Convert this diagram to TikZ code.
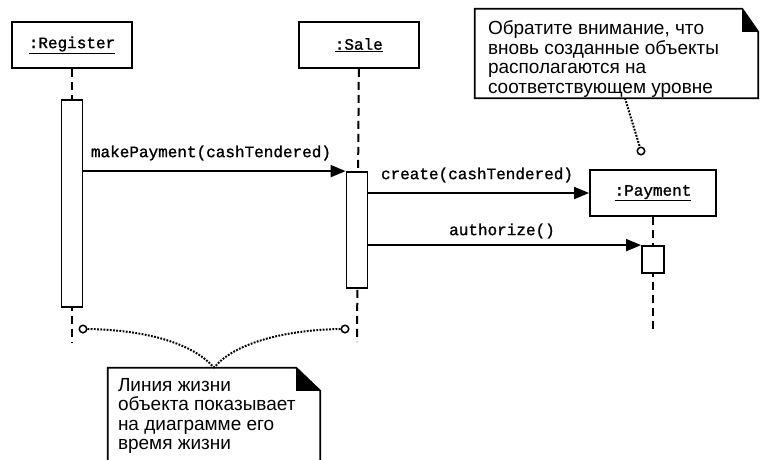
\documentclass[tikz,border=0pt]{standalone}
\usepackage{fontspec}
\setmainfont{Liberation Sans}
\setmonofont{Liberation Mono}[BoldFont=Liberation Mono,BoldFeatures={FakeBold=1.2}]
\usetikzlibrary{positioning,arrows.meta}

\tikzset{
	obj/.style={draw,line width=1.8pt,minimum width=120pt,minimum height=46pt,inner sep=0pt,font=\ttfamily\bfseries\fontsize{16}{18}\selectfont},
	act/.style={draw,fill=white,line width=1.8pt,minimum width=21pt,inner sep=0pt},
	life/.style={line width=2pt,dash pattern=on 8pt off 5pt},
	msg/.style={line width=1.8pt,-{Triangle[length=15pt,width=12pt]}},
	msglabel/.style={inner sep=0pt,font=\ttfamily\bfseries\fontsize{16}{18}\selectfont},
	note/.style={inner sep=0pt,anchor=north west,align=left,font=\fontsize{19}{19.5}\selectfont},
	notebox/.style={line width=1.8pt},
	link/.style={line width=2pt,dash pattern=on 1.8pt off 1.4pt},
	pin/.style={circle,draw,fill=white,line width=1.5pt,minimum size=7.5pt,inner sep=0pt}
}

\begin{document}
\begin{tikzpicture}[x=1pt,y=-1pt]
	\useasboundingbox (0,0) rectangle (760,459);
	\clip (0,0) rectangle (760,459);
	\draw node (reg)[obj] at (72,45) {\underline{:Register}};
	\draw node (sale)[obj,right=165pt of reg] {\underline{:Sale}};
	\draw node (pay)[obj,minimum width=126pt] at (653,193) {\underline{:Payment}};
	\coordinate (regend) at (72,342);
	\coordinate (saleend) at (357,342);
	\coordinate (payend) at (653,332);
	\draw[life] (reg.south) -- (regend);
	\draw[life] (sale.south) -- (saleend);
	\draw[life] (pay.south) -- (payend);
	\draw node (regact)[act,minimum height=207pt] at (72,203.5) {};
	\draw node (saleact)[act,minimum height=116pt] at (357,230) {};
	\draw node (payact)[act,minimum height=27pt,minimum width=22pt] at (653,259.5) {};
	\draw[msg] (regact.east |- saleact.north west) -- (saleact.north west);
	\draw[msg] (saleact.east |- pay.west) -- (pay.west);
	\draw[msg] (saleact.east |- payact.north west) -- (payact.north west);
	\draw node (mplabel)[msglabel] at (211,153) {makePayment(cashTendered)};
	\draw node (crlabel)[msglabel] at (477,175) {create(cashTendered)};
	\draw node (aulabel)[msglabel] at (502,231) {authorize()};
	\draw node (topnote)[minimum width=283pt,minimum height=89pt] at (616.5,53.5) {};
	\draw node (toptext)[note] at ([xshift=13pt,yshift=-12pt]topnote.north west) {Обратите внимание, что\\вновь созданные объекты\\располагаются на\\соответствующем уровне};
	\draw[notebox] (topnote.north west) -- ([xshift=-16pt]topnote.north east) -- ([yshift=-23pt]topnote.north east) -- (topnote.south east) -- (topnote.south west) -- cycle;
	\fill ([xshift=-16pt]topnote.north east) -- ([xshift=-16pt,yshift=-23pt]topnote.north east) -- ([yshift=-23pt]topnote.north east) -- cycle;
	\draw node (botnote)[minimum width=212pt,minimum height=102pt] at (214,419) {};
	\draw node (bottext)[note] at ([xshift=10pt,yshift=-10pt]botnote.north west) {Линия жизни\\объекта показывает\\на диаграмме его\\время жизни};
	\draw[notebox] (botnote.north west) -- ([xshift=-24pt]botnote.north east) -- ([yshift=-23pt]botnote.north east) -- (botnote.south east) -- (botnote.south west) -- cycle;
	\fill ([xshift=-24pt]botnote.north east) -- ([xshift=-24pt,yshift=-23pt]botnote.north east) -- ([yshift=-23pt]botnote.north east) -- cycle;
	\draw node (p1)[pin] at (641,151) {};
	\draw node (p2)[pin] at (83,329) {};
	\draw node (p3)[pin] at (345,329) {};
	\draw[link] ([xshift=8.5pt]topnote.south) -- (p1);
	\draw[link] (p2.east) .. controls (150,330) and (195,345) .. (botnote.north);
	\draw[link] (p3.west) .. controls (280,330) and (232,345) .. (botnote.north);
\end{tikzpicture}
\end{document}
